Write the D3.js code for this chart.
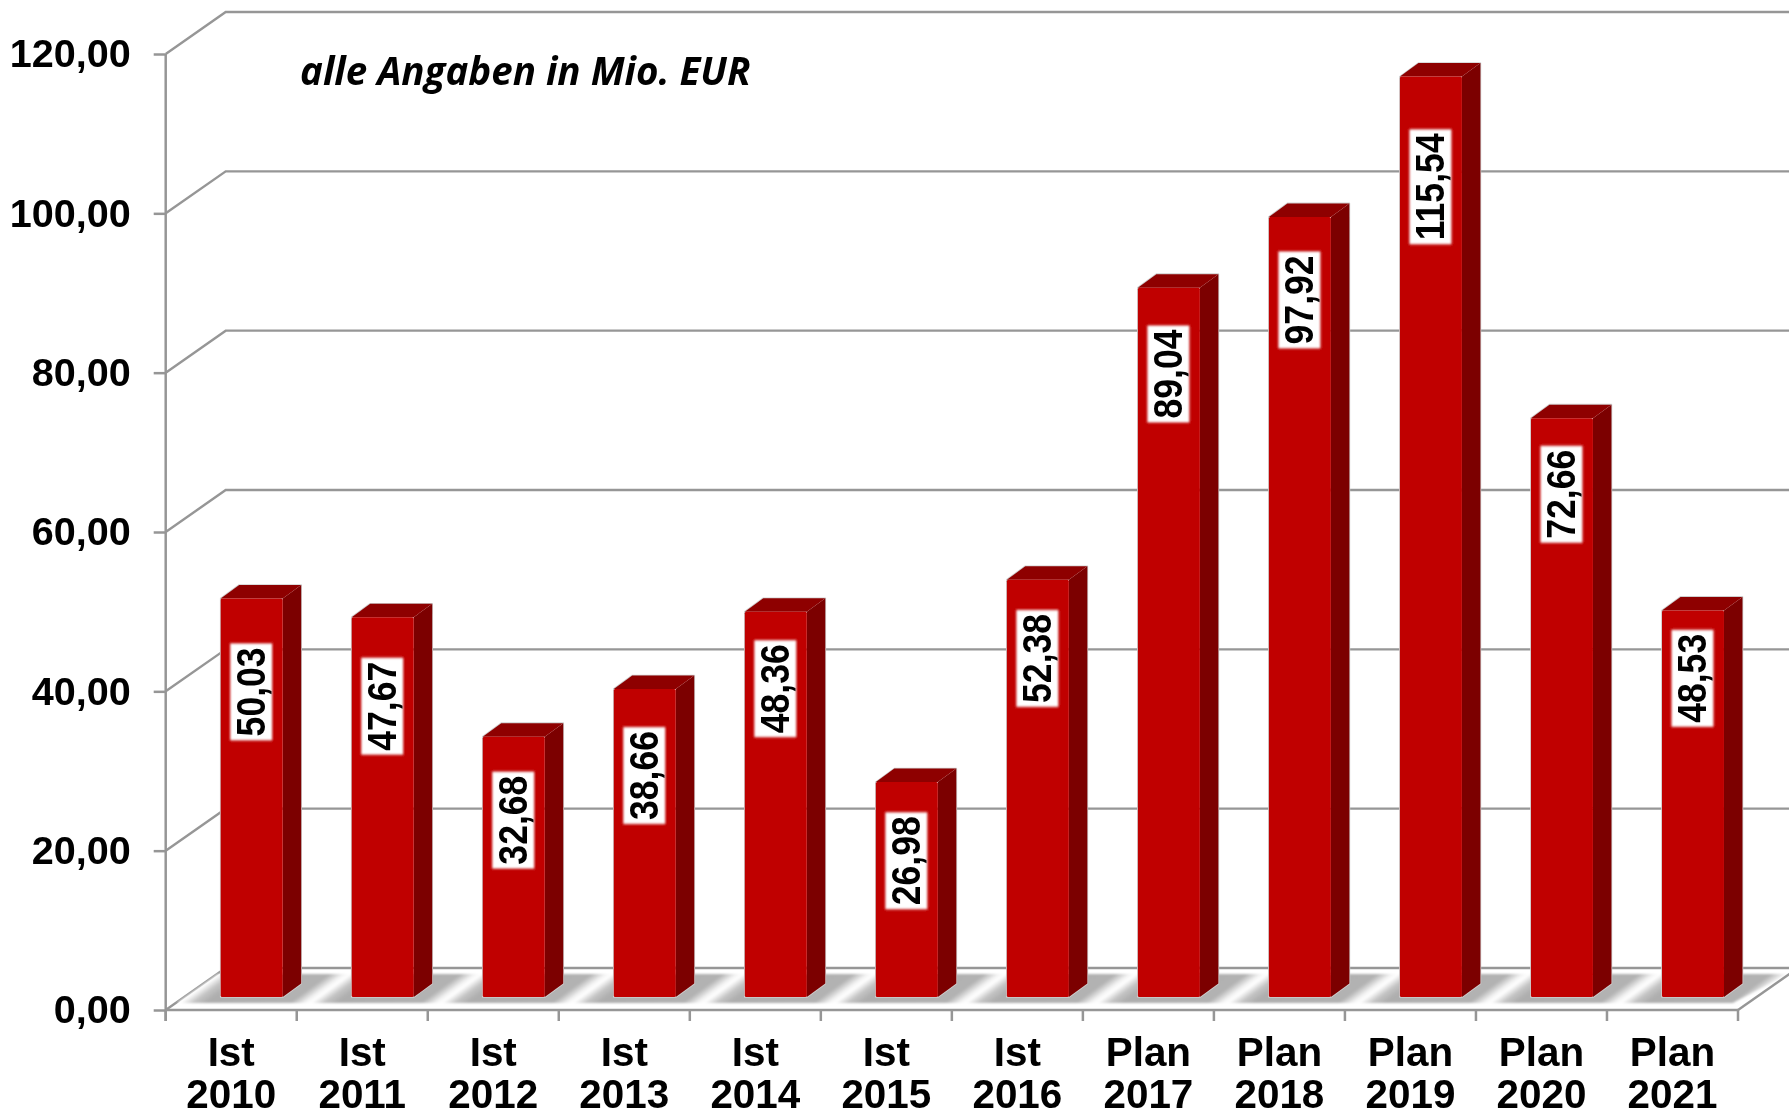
<!DOCTYPE html>
<meta charset="utf-8">
<style>
html, body { margin: 0; padding: 0; background: #fff; overflow: hidden; }
svg { display: block; }
.ylab { font: bold 39.6px "Liberation Sans", Arial, sans-serif; fill: #000; }
.xlab { font: bold 40.4px "Liberation Sans", Arial, sans-serif; fill: #000; }
.vallab { font: bold 40px "Liberation Sans", Arial, sans-serif; fill: #000; }
.note { font: italic 700 38.5px "Open Sans", sans-serif; fill: #000; }
</style>
<svg width="1789" height="1112"></svg>

<script src="https://d3js.org/d3.v7.min.js"></script>
<script>
"use strict";

// data
var kinds = ["Ist","Ist","Ist","Ist","Ist","Ist","Ist","Plan","Plan","Plan","Plan","Plan"];
var years = ["2010","2011","2012","2013","2014","2015","2016","2017","2018","2019","2020","2021"];
var values = [50.03,47.67,32.68,38.66,48.36,26.98,52.38,89.04,97.92,115.54,72.66,48.53];
// where the middle of each value label sits, in axis units
var labelMid = [38.3,36.5,22.2,27.8,38.7,17.1,42.5,78.2,87.5,101.7,63.1,40.0];
var yTicks = [0,20,40,60,80,100,120];
var note = "alle Angaben in Mio. EUR";

// chart geometry
var svg = d3.select("svg"),
    width = +svg.attr("width"),
    height = +svg.attr("height");
var depthX = 60, depthY = 42;   // floor depth
var barDX = 18.5, barDY = 13.5; // bar depth
var barLift = 13, barInset = 55, barW = 62;
var gridCol = "#969696";

var y = d3.scaleLinear().domain([0,120]).range([1010,54]);
var x = d3.scaleBand().domain(years).range([165.7,1738]);
var fmt = d3.formatLocale({decimal:",", thousands:".", grouping:[3], currency:["","€"]}).format(".2f");

var defs = svg.append("defs");

// floor stripes
var stripes = defs.append("linearGradient")
    .attr("id","stripes")
    .attr("gradientUnits","userSpaceOnUse")
    .attr("spreadMethod","repeat")
    .attr("x1",-65.5).attr("x2",65.5).attr("y1",0).attr("y2",0)
    .attr("gradientTransform","translate(308,1003) skewX(-54)");
[[0,"#b0b0b0"],[0.36,"#b2b2b2"],[0.47,"#f4f4f4"],[0.52,"#ffffff"],[0.62,"#c4c4c4"],[0.72,"#aeaeae"],[1,"#b0b0b0"]]
  .forEach(function(s){ stripes.append("stop").attr("offset",s[0]).attr("stop-color",s[1]); });

var soft = defs.append("filter").attr("id","soft");
soft.append("feGaussianBlur").attr("stdDeviation",0.8);

var glow = defs.append("filter").attr("id","glow")
    .attr("x","-20%").attr("y","-20%").attr("width","140%").attr("height","140%");
glow.append("feGaussianBlur").attr("stdDeviation",1.3);

// the reference is a slightly soft picture
var whole = defs.append("filter").attr("id","whole")
    .attr("filterUnits","userSpaceOnUse")
    .attr("x",0).attr("y",0).attr("width",width).attr("height",height);
whole.append("feGaussianBlur").attr("stdDeviation",0.55);

var root = svg.append("g").attr("filter","url(#whole)");

// back wall lines + the slanted bits on the left wall
var wall = root.append("g").attr("fill","none").attr("stroke",gridCol).attr("stroke-width",2.4);

wall.selectAll("path.grid")
  .data(yTicks)
  .enter().append("path")
    .attr("class","grid")
    .attr("d",function(d){
      return "M" + x.range()[0] + "," + y(d) +
             "L" + (x.range()[0]+depthX) + "," + (y(d)-depthY) +
             "L" + width + "," + (y(d)-depthY);
    });

// floor
root.append("path")
    .attr("d","M177,1003L218,974L1788,974L1733,1003Z")
    .attr("fill","url(#stripes)")
    .attr("filter","url(#soft)");

// axes
var yAxis = d3.axisLeft(y).tickValues(yTicks).tickSize(12).tickPadding(23).tickFormat(fmt);
var gy = root.append("g").attr("transform","translate(" + x.range()[0] + ",0)").call(yAxis);
gy.select(".domain").attr("stroke",gridCol).attr("stroke-width",2.5).attr("d","M0,1021V" + y(120));
gy.selectAll(".tick line").attr("stroke",gridCol).attr("stroke-width",2.5);
gy.selectAll(".tick text").attr("class","ylab");

root.append("path")
    .attr("d","M" + x.range()[1] + "," + y(0) + "L" + (x.range()[1]+depthX) + "," + (y(0)-depthY))
    .attr("stroke",gridCol).attr("stroke-width",2.4).attr("fill","none");

var gx = root.append("g");
gx.append("line")
    .attr("x1",x.range()[0]).attr("x2",x.range()[1])
    .attr("y1",y(0)).attr("y2",y(0))
    .attr("stroke",gridCol).attr("stroke-width",2.5);
gx.selectAll("line.tk")
  .data(years.concat(["end"]))
  .enter().append("line")
    .attr("class","tk")
    .attr("x1",function(d){ return d=="end" ? x.range()[1] : x(d); })
    .attr("x2",function(d){ return d=="end" ? x.range()[1] : x(d); })
    .attr("y1",y(0)).attr("y2",y(0)+11)
    .attr("stroke",gridCol).attr("stroke-width",2.5);

var xlab = gx.selectAll("text")
  .data(years)
  .enter().append("text")
    .attr("class","xlab")
    .attr("text-anchor","middle");
xlab.append("tspan")
    .attr("x",function(d){ return x(d)+x.bandwidth()/2; })
    .attr("y",1066)
    .text(function(d,i){ return kinds[i]; });
xlab.append("tspan")
    .attr("x",function(d){ return x(d)+x.bandwidth()/2; })
    .attr("y",1108)
    .text(function(d){ return d; });

// bars
var bar = root.append("g").selectAll("g")
  .data(values)
  .enter().append("g");

function barLeft(i){ return x(years[i]) + barInset; }
function barTop(d){ return y(d) - barLift; }
var barBottom = y(0) - barLift;

// thin grey rim round the whole bar
bar.append("path")
    .attr("d",function(d,i){
      var l = barLeft(i), r = l+barW, t = barTop(d);
      return "M"+l+","+t+"L"+(l+barDX)+","+(t-barDY)+"L"+(r+barDX)+","+(t-barDY)+"L"+(r+barDX)+","+(barBottom-barDY)+"L"+r+","+barBottom+"L"+l+","+barBottom+"Z";
    })
    .attr("fill","none").attr("stroke","#cfcfcf").attr("stroke-width",1.6).attr("stroke-linejoin","round");

// side face
bar.append("path")
    .attr("d",function(d,i){
      var r = barLeft(i)+barW;
      return "M"+r+","+barTop(d)+"L"+(r+barDX)+","+(barTop(d)-barDY)+"L"+(r+barDX)+","+(barBottom-barDY)+"L"+r+","+barBottom+"Z";
    })
    .attr("fill","#7c0000");

// top face
bar.append("path")
    .attr("d",function(d,i){
      var l = barLeft(i), r = l+barW;
      return "M"+l+","+barTop(d)+"L"+(l+barDX)+","+(barTop(d)-barDY)+"L"+(r+barDX)+","+(barTop(d)-barDY)+"L"+r+","+barTop(d)+"Z";
    })
    .attr("fill","#8e0000");

// front face
bar.append("rect")
    .attr("x",function(d,i){ return barLeft(i); })
    .attr("y",barTop)
    .attr("width",barW)
    .attr("height",function(d){ return barBottom-barTop(d); })
    .attr("rx",1.5)
    .attr("fill","#c00000");

// value labels
var lab = root.append("g").selectAll("g")
  .data(values)
  .enter().append("g")
    .attr("transform",function(d,i){
      return "translate(" + (barLeft(i)+barW/2-0.5) + "," + (y(labelMid[i])-barLift) + ") rotate(-90)";
    });

function labLen(d){ return fmt(d).length*18; }

lab.append("rect")
    .attr("x",function(d){ return -(labLen(d)+7)/2; })
    .attr("y",-21)
    .attr("width",function(d){ return labLen(d)+7; })
    .attr("height",42)
    .attr("fill","#fff")
    .attr("filter","url(#glow)");

lab.append("text")
    .attr("class","vallab")
    .attr("text-anchor","middle")
    .attr("y",14)
    .attr("textLength",function(d){ return labLen(d)-1; })
    .attr("lengthAdjust","spacingAndGlyphs")
    .text(fmt);

// note
root.append("text")
    .attr("class","note")
    .attr("x",300).attr("y",85)
    .text(note);
</script>
